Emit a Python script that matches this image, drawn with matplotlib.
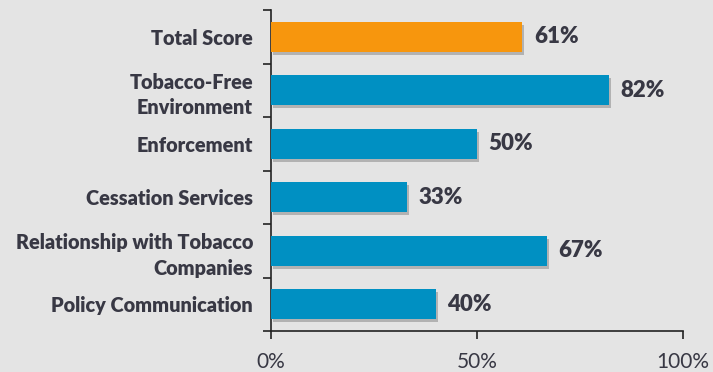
import matplotlib
matplotlib.use("Agg")
import matplotlib.pyplot as plt
import matplotlib.patheffects as pe

# category scores, top to bottom
categories = ["Total Score", "Tobacco-Free\nEnvironment", "Enforcement",
              "Cessation Services", "Relationship with Tobacco\nCompanies",
              "Policy Communication"]
scores = [61, 82, 50, 33, 67, 40]
bar_colors = ["#f7960d", "#0090c2", "#0090c2", "#0090c2", "#0090c2", "#0090c2"]
xticks = [0, 50, 100]
xtick_labels = ["0%", "50%", "100%"]

bg = "#e4e4e4"
txt = "#383844"

plt.rcParams['font.family'] = ['Lato', 'DejaVu Sans']

fig = plt.figure(figsize=(7.13, 3.72), dpi=100, facecolor=bg)
ax = fig.add_axes([0.380, 0.110, 0.578, 0.863], facecolor=bg)

ypos = list(range(len(categories)))[::-1]
bars = ax.barh(ypos, scores, height=0.56, color=bar_colors, zorder=3)
for b in bars:
    b.set_path_effects([pe.SimplePatchShadow(offset=(1.5, -2), shadow_rgbFace="#8a8a8a", alpha=0.55),
                        pe.Normal()])

for y, v in zip(ypos, scores):
    ax.text(v + 2.8, y, f"{v}%", va="center", ha="left", fontsize=16,
            fontweight="heavy", color=txt)

ax.set_xlim(0, 100)
ax.set_ylim(-0.5, len(categories) - 0.5)

# category labels sit between boundary ticks
ax.set_yticks(ypos)
ax.set_yticklabels(categories, fontsize=14.3, fontweight="heavy", color=txt,
                   linespacing=1.4)
ax.tick_params(axis="y", length=0, pad=13)
ax.set_yticks([i - 0.5 for i in range(len(categories) + 1)], minor=True)
ax.tick_params(axis="y", which="minor", length=6, width=1.2, color="#222222")

ax.set_xticks(xticks)
ax.set_xticklabels(xtick_labels, fontsize=15, color=txt)
ax.tick_params(axis="x", length=6, width=1.2, color="#222222", pad=9)

for s in ["top", "right"]:
    ax.spines[s].set_visible(False)
for s in ["left", "bottom"]:
    ax.spines[s].set_color("#222222")
    ax.spines[s].set_linewidth(1.2)

fig.savefig("out.png", dpi=100, facecolor=bg)
